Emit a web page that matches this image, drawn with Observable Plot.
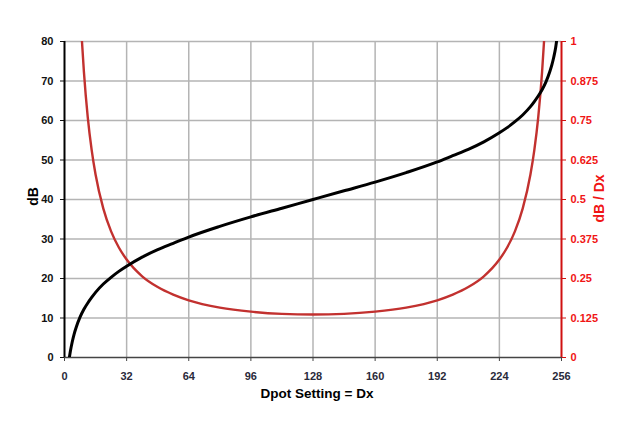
<!DOCTYPE html>
<html>
<head>
<meta charset="utf-8">
<script src="https://cdn.jsdelivr.net/npm/d3@7"></script>
<script src="https://cdn.jsdelivr.net/npm/@observablehq/plot@0.6"></script>
<style>
  html, body { margin: 0; padding: 0; background: #fff; }
  #chart svg { display: block; }
</style>
</head>
<body>
<div id="chart"></div>
<script>
// dB curve (left axis)
const dbX = [2.5,3,4,5,6,8,10,12,14,16,20,24,28,32,40,48,56,64,80,96,112,128,144,160,176,192,200,208,216,224,228,232,236,240,242,244,246,248,250,251,252,253,254];
const dbY = [0,1.5,4.0,6.0,7.6,10.2,12.2,13.8,15.2,16.5,18.6,20.3,21.8,23.1,25.4,27.3,28.9,30.5,33.2,35.6,37.8,40,42.2,44.4,46.8,49.5,51.1,52.7,54.6,56.9,58.2,59.7,61.4,63.5,64.8,66.2,67.8,69.8,72.4,74.0,76.0,78.5,82.1];
// dB / Dx curve (right axis)
const slopeX = [8,9,10,12,14,16,20,24,28,32,40,48,56,64,80,96,112,128,144,160,176,192,200,208,216,224,228,232,236,240,242,244,246,247,248];
const slopeY = [1.121,1.0,0.904,0.759,0.656,0.579,0.471,0.399,0.348,0.310,0.257,0.223,0.199,0.181,0.158,0.145,0.138,0.136,0.138,0.145,0.158,0.181,0.199,0.223,0.257,0.310,0.348,0.399,0.471,0.579,0.656,0.759,0.904,1.0,1.121];

const xTicks = [0,32,64,96,128,160,192,224,256];
const leftTicks = [0,10,20,30,40,50,60,70,80];
const rightTicks = [0,0.125,0.25,0.375,0.5,0.625,0.75,0.875,1];

const leftMax = 80, rightMax = 1;
const k = leftMax / rightMax;

const dbData = dbX.map((x, i) => ({x, y: dbY[i]}));
const slopeData = slopeX.map((x, i) => ({x, y: slopeY[i] * k}));

const font = "'Liberation Sans', Arial, sans-serif";

const chart = Plot.plot({
  width: 627,
  height: 428,
  marginLeft: 64,
  marginRight: 66,
  marginTop: 41,
  marginBottom: 71,
  style: {fontFamily: font, fontSize: "11px", fontWeight: "bold", background: "#fff"},
  x: {domain: [0, 256]},
  y: {domain: [0, leftMax]},
  marks: [
    Plot.ruleY(leftTicks.filter(d => d > 0), {stroke: "#b4b4b4", strokeWidth: 1.5}),
    Plot.ruleX(xTicks.filter(d => d > 0 && d < 256), {stroke: "#b4b4b4", strokeWidth: 1.5}),
    Plot.axisX({ticks: xTicks, tickSize: 4, tickPadding: 11, label: null, fill: "#2a2a3a", stroke: "#444", fontWeight: "bold"}),
    Plot.axisY({ticks: leftTicks, tickSize: 4, tickPadding: 7, label: null, anchor: "left", fill: "#111", stroke: "#111"}),
    Plot.axisY({ticks: rightTicks.map(d => d * k), tickFormat: d => String(d / k), tickSize: 4, tickPadding: 5, label: null, anchor: "right", fill: "#f01515", stroke: "#d01010", textAnchor: "start"}),
    Plot.ruleY([0], {stroke: "#444", strokeWidth: 1.5}),
    Plot.ruleX([0], {stroke: "#000", strokeWidth: 2}),
    Plot.ruleX([256], {stroke: "#d01010", strokeWidth: 2}),
    Plot.line(slopeData, {x: "x", y: "y", stroke: "#c2312f", strokeWidth: 2.4, curve: "monotone-x", clip: true}),
    Plot.line(dbData, {x: "x", y: "y", stroke: "#000", strokeWidth: 3, curve: "monotone-x", clip: true}),
    Plot.text(["dB"], {frameAnchor: "left", textAnchor: "middle", dx: -31, dy: -3, rotate: -90, fontSize: 14, fontWeight: "bold", fill: "#000"}),
    Plot.text(["dB / Dx"], {frameAnchor: "right", textAnchor: "middle", dx: 38, dy: -1, rotate: -90, fontSize: 14, fontWeight: "bold", fill: "#f01515"}),
    Plot.text(["Dpot Setting = Dx"], {frameAnchor: "bottom", dx: 4, dy: 40, fontSize: 13.5, fontWeight: "bold", fill: "#000"})
  ]
});
document.getElementById("chart").appendChild(chart);
</script>
</body>
</html>
